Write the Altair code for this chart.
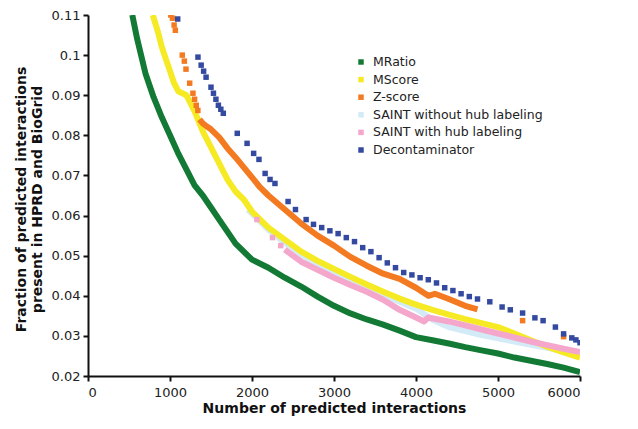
import altair as alt
import pandas as pd

series_names = ["MRatio", "MScore", "Z-score", "SAINT without hub labeling",
                "SAINT with hub labeling", "Decontaminator"]
series_colors = ["#127a35", "#f5ea24", "#f37a21", "#d3ebf6", "#f4a6cb", "#3449a0"]

x_ticks = [0, 1000, 2000, 3000, 4000, 5000, 6000]
y_ticks = [0.02, 0.03, 0.04, 0.05, 0.06, 0.07, 0.08, 0.09, 0.1, 0.11]

# MRatio (dense line)
mratio_x = [540, 600, 700, 800, 900, 1000, 1100, 1200, 1300, 1400, 1500, 1600, 1700,
            1800, 1900, 2000, 2200, 2400, 2600, 2800, 3000, 3200, 3400, 3600, 3800,
            4000, 4200, 4400, 4600, 4800, 5000, 5200, 5400, 5600, 5800, 6000]
mratio_y = [0.110, 0.104, 0.0955, 0.0895, 0.0845, 0.080, 0.0755, 0.0715, 0.0675, 0.065,
            0.062, 0.059, 0.056, 0.053, 0.051, 0.049, 0.047, 0.0445, 0.0423, 0.0398,
            0.0375, 0.0356, 0.0341, 0.0328, 0.0313, 0.0297, 0.0289, 0.0281, 0.0272,
            0.0264, 0.0256, 0.0246, 0.0238, 0.0230, 0.0221, 0.0210]

# MScore (dense line)
mscore_x = [790, 850, 900, 950, 1000, 1050, 1100, 1200, 1300, 1400, 1500, 1600, 1700,
            1800, 1900, 2000, 2200, 2400, 2600, 2800, 3000, 3200, 3400, 3600, 3800,
            4000, 4200, 4400, 4600, 4800, 5000, 5200, 5400, 5600, 5800, 6000]
mscore_y = [0.110, 0.106, 0.102, 0.099, 0.096, 0.093, 0.091, 0.090, 0.086, 0.081,
            0.077, 0.073, 0.069, 0.066, 0.064, 0.061, 0.057, 0.054, 0.051, 0.0487,
            0.0467, 0.0447, 0.0428, 0.041, 0.0393, 0.0378, 0.0365, 0.0353, 0.0342,
            0.0332, 0.0322, 0.0306, 0.0289, 0.0273, 0.0259, 0.0246]

# Z-score: sparse squares then dense line
zscore_pts_x = [1010, 1030, 1050, 1065, 1150, 1175, 1195, 1240, 1280, 1300, 1320, 1340,
                5300, 5800]
zscore_pts_y = [0.110, 0.1092, 0.1075, 0.1062, 0.1000, 0.0985, 0.0965, 0.0930, 0.0905,
                0.0890, 0.0875, 0.0862, 0.0338, 0.0298]
zscore_x = [1360, 1400, 1450, 1500, 1600, 1700, 1800, 1900, 2000, 2100, 2200, 2400,
            2600, 2800, 3000, 3200, 3400, 3600, 3800, 4000, 4150, 4230, 4400, 4600, 4750]
zscore_y = [0.0840, 0.0830, 0.0822, 0.0815, 0.0795, 0.0768, 0.0745, 0.0720, 0.0695,
            0.0670, 0.0650, 0.0615, 0.0580, 0.0550, 0.0525, 0.0497, 0.0475, 0.0455,
            0.0442, 0.0420, 0.0400, 0.0405, 0.0392, 0.0375, 0.0366]

# SAINT without hub labeling (light blue)
saint_wo_x = [1950, 2000, 2200, 2400, 2600, 2800, 3000, 3200, 3400, 3600, 3800, 4000,
              4200, 4400, 4600, 4800, 5000, 5200, 5400, 5600, 5800, 6000]
saint_wo_y = [0.0615, 0.0605, 0.0565, 0.0532, 0.0503, 0.0478, 0.0458, 0.0438, 0.0420,
              0.0402, 0.0385, 0.0368, 0.0340, 0.0322, 0.0312, 0.0302, 0.0294, 0.0286,
              0.0278, 0.0270, 0.0262, 0.0255]

# SAINT with hub labeling (pink)
saint_w_pts_x = [2060, 2250, 2350]
saint_w_pts_y = [0.0590, 0.0545, 0.0525]
saint_w_x = [2400, 2600, 2800, 3000, 3200, 3400, 3600, 3800, 4000, 4100, 4150, 4400,
             4600, 4800, 5000, 5200, 5400, 5600, 5800, 6000]
saint_w_y = [0.0515, 0.0485, 0.0465, 0.0445, 0.0427, 0.0410, 0.0390, 0.0365, 0.0346,
             0.0336, 0.0346, 0.0336, 0.0326, 0.0316, 0.0306, 0.0296, 0.0286, 0.0277,
             0.0268, 0.0260]

# Decontaminator (squares)
decon_x = [1094, 1341, 1380, 1410, 1440, 1500, 1530, 1560, 1590, 1620, 1650, 1820, 1940,
           2020, 2085, 2160, 2220, 2280, 2440, 2530, 2660, 2750, 2850, 2950, 3050, 3150,
           3250, 3350, 3450, 3550, 3650, 3750, 3850, 3950, 4050, 4150, 4250, 4350, 4450,
           4550, 4650, 4750, 4900, 5050, 5150, 5300, 5450, 5550, 5700, 5800, 5900, 5950,
           6000]
decon_y = [0.1090, 0.0995, 0.0975, 0.0960, 0.0945, 0.0920, 0.0905, 0.0890, 0.0875,
           0.0865, 0.0855, 0.0805, 0.0780, 0.0755, 0.0740, 0.0705, 0.0690, 0.0680,
           0.0635, 0.0615, 0.0590, 0.0578, 0.0570, 0.0562, 0.0555, 0.0545, 0.0535,
           0.0520, 0.0510, 0.0495, 0.0482, 0.0470, 0.0458, 0.0452, 0.0445, 0.0440,
           0.0432, 0.0420, 0.0413, 0.0405, 0.0398, 0.0392, 0.0385, 0.0372, 0.0365,
           0.0357, 0.0345, 0.0338, 0.0322, 0.0305, 0.0295, 0.0290, 0.0283]


def frame(name, xs, ys):
    return pd.DataFrame({"x": xs, "y": ys, "series": name})


lines = pd.concat([
    frame(series_names[3], saint_wo_x, saint_wo_y),
    frame(series_names[0], mratio_x, mratio_y),
    frame(series_names[1], mscore_x, mscore_y),
    frame(series_names[2], zscore_x, zscore_y),
    frame(series_names[4], saint_w_x, saint_w_y),
])
points = pd.concat([
    frame(series_names[2], zscore_pts_x, zscore_pts_y),
    frame(series_names[4], saint_w_pts_x, saint_w_pts_y),
    frame(series_names[5], decon_x, decon_y),
])
legend_df = pd.DataFrame({"series": series_names})

font = "DejaVu Sans"
color_scale = alt.Scale(domain=series_names, range=series_colors)
color_enc = alt.Color("series:N", scale=color_scale, legend=None)
x_enc = alt.X("x:Q", scale=alt.Scale(domain=[0, 6000], nice=False),
              axis=alt.Axis(values=x_ticks, format="d",
                            title="Number of predicted interactions"))
y_scale = alt.Scale(domain=[0.02, 0.11], nice=False, zero=False)
y_axis_enc = alt.Y("y:Q", scale=y_scale,
                   axis=alt.Axis(values=y_ticks, format=".2~f", titleY=184,
                                 title=["Fraction of predicted interactions",
                                        "present in HPRD and BioGrid"]))
y_enc = alt.Y("y:Q", scale=y_scale, axis=None)

layers = []
order = [series_names[3], series_names[0], series_names[1], series_names[2],
         series_names[4]]
for i, name in enumerate(order):
    layers.append(
        alt.Chart(lines[lines.series == name]).mark_line(
            strokeWidth=6, strokeJoin="round", clip=True
        ).encode(x=x_enc, y=y_axis_enc if i == 0 else y_enc, color=color_enc)
    )

pts_layer = alt.Chart(points).mark_square(size=30, opacity=1, clip=True).encode(
    x=x_enc, y=y_enc, color=color_enc)

leg_y = alt.Y("series:N", scale=alt.Scale(type="point", domain=series_names,
                                          range=[47, 135], padding=0), axis=None)
leg_sym = alt.Chart(legend_df).mark_square(size=30, opacity=1).encode(
    x=alt.value(273), y=leg_y, color=color_enc)
leg_txt = alt.Chart(legend_df).mark_text(
    align="left", baseline="middle", font=font, fontSize=12.5, color="#222"
).encode(x=alt.value(285), y=leg_y, text="series:N")

chart = alt.layer(*layers, pts_layer, leg_sym, leg_txt).resolve_scale(
    y="independent"
).properties(
    width=492, height=361,
    autosize=alt.AutoSizeParams(type="none"),
    padding={"left": 80, "top": 7, "right": 50, "bottom": 45},
).configure_view(stroke=None).configure_axis(
    labelFont=font, labelFontSize=13, labelColor="#222",
    titleFont=font, titleFontSize=14, titleFontWeight="bold", titleColor="#111",
    domainColor="#111", domainWidth=2, tickColor="#111", tickWidth=2, tickSize=5,
    grid=False,
).configure_axisX(labelPadding=5, titlePadding=2).configure_axisY(
    labelPadding=3, titlePadding=7)

chart.save("out.html", embed_options={"renderer": "svg", "actions": False})
